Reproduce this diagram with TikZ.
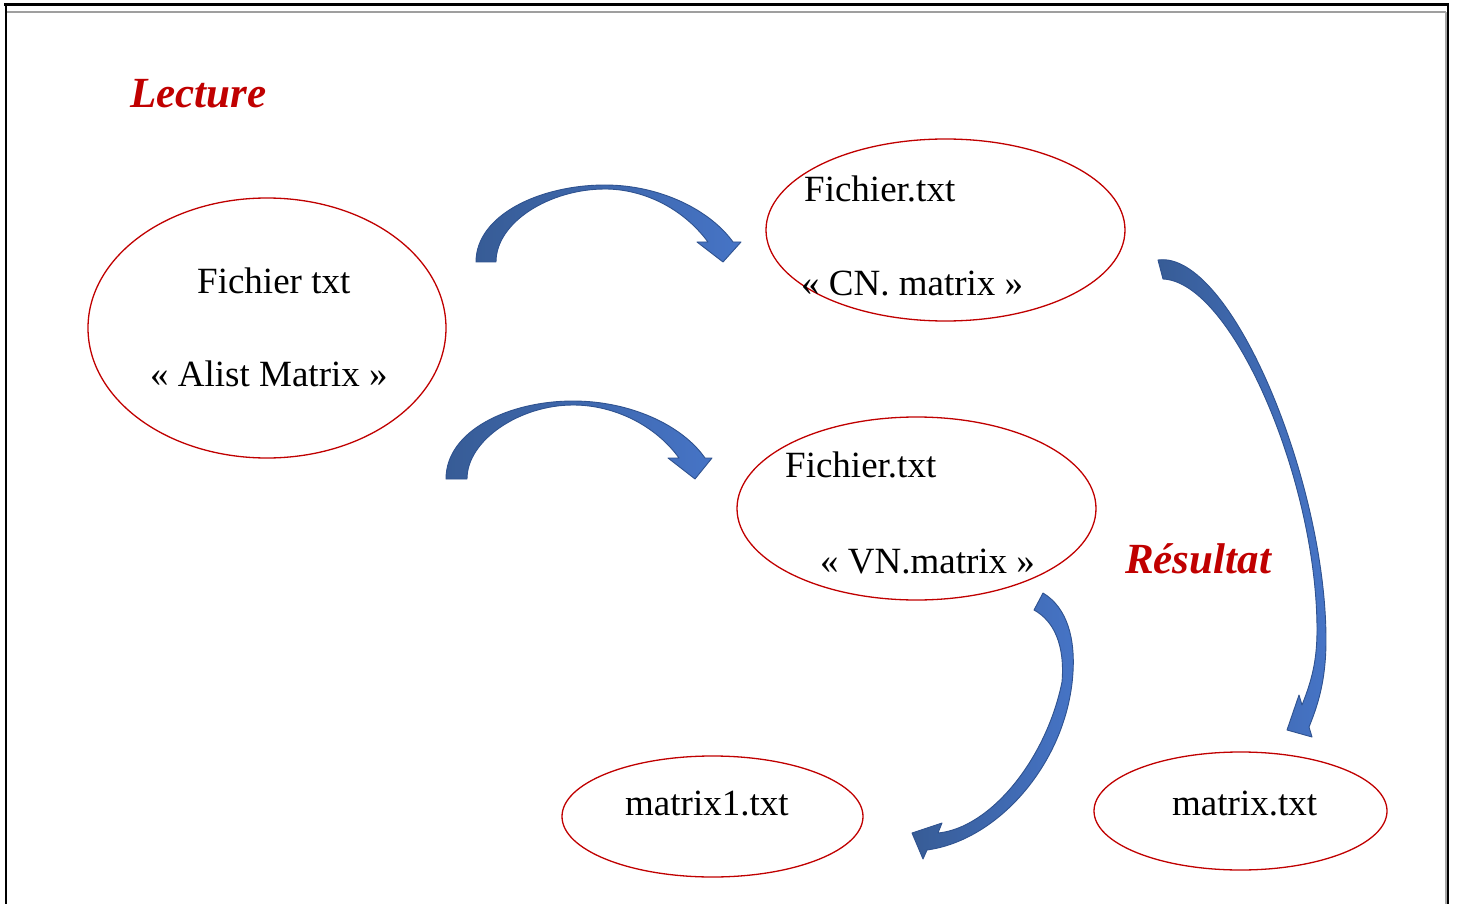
\documentclass[tikz,border=0pt]{standalone}
\usepackage{fontspec}
\setmainfont{Liberation Serif}
\usetikzlibrary{shapes.geometric}
\definecolor{ellred}{HTML}{C00000}
\definecolor{arrdark}{HTML}{375C96}
\definecolor{arrlight}{HTML}{4674C6}
\definecolor{arredge}{HTML}{2F528F}
\begin{document}
\begin{tikzpicture}[x=1pt,y=-1pt,
  oval/.style={draw=ellred,line width=1.3pt,ellipse,inner sep=0pt},
  lbl/.style={anchor=base west,inner sep=0pt,font=\fontsize{37}{44}\selectfont},
  ttl/.style={anchor=base west,inner sep=0pt,text=ellred,font=\fontsize{43}{50}\selectfont\bfseries\itshape},
  blockarrow/.style={draw=arredge,line width=0.9pt,line join=round,left color=arrdark,right color=arrlight}]
\useasboundingbox (0,0) rectangle (1457,904);
% frame
\draw[gray!75,line width=2pt] (7,12.5) -- (1446,12.5);
\draw[gray!70,line width=1.2pt] (1446,12) -- (1446,904);
\draw[black,line width=2.6pt] (4,4.6) -- (1449,4.6);
\draw[black,line width=2.4pt] (6.2,3.4) -- (6.2,904);
\draw[black,line width=2pt] (1448.2,3.4) -- (1448.2,904);
% ellipses
\node[oval,minimum width=358,minimum height=260] (alist) at (267,328) {};
\node[oval,minimum width=359,minimum height=182] (cn) at (945.5,230) {};
\node[oval,minimum width=359,minimum height=183] (vn) at (916.5,508.5) {};
\node[oval,minimum width=301,minimum height=121] (m1) at (712.5,816.5) {};
\node[oval,minimum width=293,minimum height=118] (m) at (1240.5,811) {};
% texts
\node[lbl] (t1) at (197,294) {Fichier txt};
\node[lbl] (t2) at (150,386) {« Alist Matrix »};
\node[lbl] (t3) at (804,202) {Fichier.txt};
\node[lbl] (t4) at (801,295) {« CN. matrix »};
\node[lbl] (t5) at (785,477) {Fichier.txt};
\node[lbl] (t6) at (820,573) {« VN.matrix »};
\node[lbl] (t7) at (625,815) {matrix1.txt};
\node[lbl] (t8) at (1172,815) {matrix.txt};
\node[ttl] (lecture) at (130,108) {Lecture};
\node[ttl] (resultat) at (1125,573) {Résultat};
% block arrows
\path[blockarrow] (476,262) .. controls (476,215) and (540,185) .. (605,185)
  .. controls (660,185) and (710,210) .. (733,242) -- (741,242) -- (723,262) -- (697,242) -- (708,242)
  .. controls (682,207) and (642,189) .. (605,189) .. controls (550,189) and (496,222) .. (496,262) -- cycle;
\path[blockarrow] (446,479) .. controls (446,430) and (510,401) .. (573,401)
  .. controls (630,401) and (682,425) .. (705,458) -- (712,458) -- (695,479) -- (668,458) -- (679,458)
  .. controls (656,426) and (615,405) .. (573,405) .. controls (520,405) and (467,440) .. (467,479) -- cycle;
\path[blockarrow] (1158,260) .. controls (1230,250) and (1326,480) .. (1326,640)
  .. controls (1326,680) and (1318,705) .. (1309,727) -- (1312,737) -- (1287,730) -- (1299,695) -- (1302,705)
  .. controls (1312,680) and (1317,660) .. (1317,630) .. controls (1317,480) and (1232,282) .. (1163,279) -- cycle;
\path[blockarrow] (1043,593) .. controls (1068,608) and (1075,640) .. (1073,672)
  .. controls (1068,760) and (1000,840) .. (927,850) -- (923,859) -- (912,833) -- (942,823) -- (938,833)
  .. controls (990,828) and (1046,760) .. (1062,682) .. controls (1065,645) and (1054,621) .. (1034,610) -- cycle;
\end{tikzpicture}
\end{document}
